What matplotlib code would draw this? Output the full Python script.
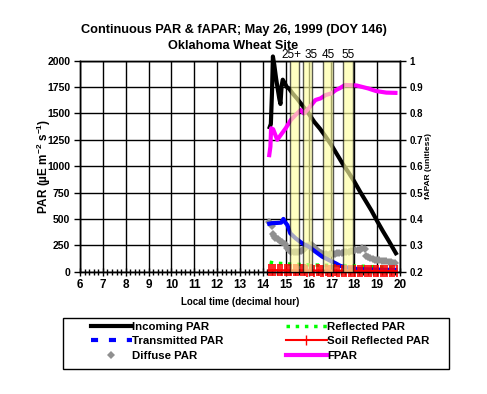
import matplotlib
matplotlib.use("Agg")
import matplotlib.pyplot as plt
from matplotlib.lines import Line2D
from matplotlib.patches import Rectangle
import numpy as np

plt.rcParams['font.family'] = ['Liberation Sans', 'DejaVu Sans']
plt.rcParams['mathtext.fontset'] = 'custom'
plt.rcParams['mathtext.rm'] = 'Liberation Sans:bold'
plt.rcParams['mathtext.default'] = 'rm'

# Incoming PAR (black)
inc_t = [14.30, 14.35, 14.40, 14.44, 14.50, 14.58, 14.66, 14.72, 14.77, 14.82, 14.87,
         14.95, 15.05, 15.15, 15.3, 15.5, 15.75, 16.0, 16.25, 16.5, 16.75, 17.0,
         17.25, 17.5, 17.75, 18.0, 18.25, 18.5, 18.75, 19.0, 19.25, 19.5, 19.82]
inc_v = [1370, 1400, 1700, 2040, 1960, 1830, 1720, 1640, 1590, 1760, 1820,
         1790, 1750, 1735, 1690, 1640, 1570, 1500, 1420, 1355, 1280, 1200,
         1110, 1020, 940, 855, 760, 670, 580, 480, 385, 295, 175]

# Transmitted PAR (blue)
tr_t = [14.28, 14.4, 14.6, 14.8, 14.9, 14.97, 15.07, 15.2, 15.43, 15.72, 16.01,
        16.3, 16.6, 16.89, 17.18, 17.4, 17.84, 18.2, 18.6, 19.0, 19.4, 19.8]
tr_v = [455, 460, 462, 465, 500, 470, 443, 364, 317, 269, 237,
        190, 142, 111, 80, 54, 32, 25, 22, 20, 18, 18]

# Diffuse PAR (grey markers)
df_t = [14.28, 14.33, 14.38, 14.43, 14.48, 14.55, 14.65, 14.75, 14.85, 14.95,
        15.05, 15.15, 15.25, 15.35, 15.45, 15.55, 15.65, 15.75, 15.85, 15.95,
        16.05, 16.15, 16.25, 16.35, 16.45, 16.55, 16.65, 16.75, 16.85, 16.95,
        17.05, 17.15, 17.25, 17.35, 17.45, 17.55, 17.65, 17.75, 17.85, 17.95,
        18.05, 18.15, 18.25, 18.35, 18.45, 18.5, 18.6, 18.7, 18.8, 18.9,
        19.0, 19.1, 19.2, 19.3, 19.4, 19.5, 19.6, 19.7, 19.8]
df_v = [470, 460, 430, 360, 335, 320, 310, 295, 285, 260,
        225, 205, 190, 185, 190, 190, 200, 210, 220, 240,
        255, 250, 230, 205, 185, 175, 170, 165, 160, 170,
        170, 172, 175, 175, 178, 182, 185, 188, 192, 198,
        202, 205, 210, 222, 215, 150, 140, 130, 120, 115,
        112, 108, 104, 100, 98, 95, 90, 85, 78]

# Reflected PAR (green)
rf_t = [14.3, 14.5, 14.8, 15.0, 15.5, 16.0, 16.5, 17.0, 17.5, 18.0, 18.5, 19.0, 19.5, 19.8]
rf_v = [90, 82, 78, 74, 70, 65, 62, 60, 58, 55, 50, 45, 40, 35]

# Soil reflected PAR (red)
sr_t = np.linspace(14.25, 19.85, 57)
sr_v = [12, 14, 13, 15, 14, 12, 13, 14, 15, 13, 12, 14, 13, 12, 14, 13, 12, 11, 13,
        12, 11, 12, 13, 11, 10, 12, 11, 10, 11, 12, 10, 9, 11, 10, 9, 8, 10, 9,
        8, 7, 9, 8, 7, 8, 7, 6, 8, 7, 6, 7, 6, 5, 7, 6, 5, 6, 5]

# FPAR (magenta, right axis)
fp_t = [14.28, 14.33, 14.36, 14.45, 14.63, 14.78, 15.0, 15.22, 15.43, 15.65, 15.8,
        16.01, 16.3, 16.52, 16.75, 17.0, 17.2, 17.35, 17.6, 18.1, 18.6, 18.95, 19.4, 19.8]
fp_v = [0.642, 0.674, 0.744, 0.74, 0.70, 0.718, 0.744, 0.775, 0.794, 0.813, 0.80,
        0.82, 0.851, 0.857, 0.87, 0.876, 0.889, 0.895, 0.908, 0.906, 0.895, 0.885, 0.879, 0.878]

# Yellow windows and their labels
win_start = [15.17, 15.77, 16.64, 17.52]
win_end = [15.60, 16.13, 17.08, 17.96]
win_lab_x = [15.27, 16.09, 16.86, 17.73]
win_lab = ["25+", "35", "45", "55"]

fig = plt.figure(figsize=(4.87, 3.94), dpi=100)
ax = fig.add_axes([80 / 487, 1 - 271.7 / 394, 320 / 487, 211 / 394])
ax2 = ax.twinx()

ax.set_xlim(6, 20)
ax.set_ylim(0, 2000)
ax2.set_ylim(0.2, 1.0)

ax.set_xticks(range(6, 21))
ax.set_xticks(np.arange(6, 20.01, 0.2), minor=True)
ax.set_yticks(range(0, 2001, 250))
ax.grid(True, which='major', color='black', linewidth=1)
ax.set_axisbelow(True)

ax.tick_params(axis='x', which='major', direction='inout', length=6, width=1,
               labelsize=8.5, pad=2)
ax.tick_params(axis='x', which='minor', direction='inout', length=4, width=1)
ax.tick_params(axis='y', direction='out', length=4, width=1, labelsize=7.5, pad=3)
for lab in ax.get_xticklabels() + ax.get_yticklabels():
    lab.set_fontweight('bold')

ax2.set_yticks(np.arange(0.2, 1.01, 0.1))
ax2.set_yticklabels(["0.2", "0.3", "0.4", "0.5", "0.6", "0.7", "0.8", "0.9", "1"],
                    fontweight='bold')
ax2.tick_params(axis='y', direction='out', length=4, width=1, labelsize=7, pad=3)

for sp in ax.spines.values():
    sp.set_linewidth(1)
for sp in ax2.spines.values():
    sp.set_linewidth(1)

ax.plot(df_t, df_v, linestyle='none', marker='D', markersize=4.5, color='#909090',
        markeredgewidth=0, zorder=3)
ax.plot(rf_t, rf_v, color='#00ff00', linestyle=':', linewidth=2.5, zorder=4)
ax.plot(tr_t, tr_v, color='#0000ff', linewidth=3, zorder=4)
ax.plot(sr_t, sr_v, color='#ff0000', linewidth=1.5, marker='|', markersize=9,
        markeredgewidth=1.2, zorder=5, clip_on=False)
ax.plot(inc_t, inc_v, color='black', linewidth=3, zorder=6, clip_on=False)
ax2.plot(fp_t, fp_v, color='#ff00ff', linewidth=3, zorder=2)

for s, e in zip(win_start, win_end):
    ax2.axvspan(s, e, facecolor='#ffffa0', alpha=0.65, edgecolor='black',
                linewidth=1, zorder=5)
for x, t in zip(win_lab_x, win_lab):
    ax.text(x, 1.0, t, transform=ax.get_xaxis_transform(), ha='center',
            va='bottom', fontsize=8.5)

ax.set_xlabel("Local time (decimal hour)", fontsize=7, fontweight='bold')
ax.xaxis.set_label_coords(0.5, -(301.7 - 271.7) / 211)
ax.xaxis.label.set_va('center')
ax.set_ylabel(r"PAR (µE m$^{-2}$ s$^{-1}$)", fontsize=8.5, fontweight='bold')
ax.yaxis.set_label_coords(-(80 - 44) / 320, 0.5)
ax.yaxis.label.set_va('center')
ax2.set_ylabel("fAPAR (unitless)", fontsize=6, fontweight='bold')
ax2.yaxis.set_label_coords((428.7 - 80) / 320, 0.5)
ax2.yaxis.label.set_va('center')

fig.text(233.5 / 487, 1 - 30 / 394, "Continuous PAR & fAPAR; May 26, 1999 (DOY 146)",
         ha='center', va='center', fontsize=9.2, fontweight='bold')
fig.text(233.5 / 487, 1 - 46 / 394, "Oklahoma Wheat Site",
         ha='center', va='center', fontsize=9.2, fontweight='bold')

# legend: frame drawn separately, entries spread between x=88 and x=430
fig.patches.append(Rectangle((63 / 487, 1 - 369 / 394), 386 / 487, 51 / 394,
                             transform=fig.transFigure, facecolor='white',
                             edgecolor='black', linewidth=1, zorder=1))
handles = [
    Line2D([], [], color='black', linewidth=3),
    Line2D([], [], color='#0000ff', linewidth=3, linestyle=(0, (1.7, 2.6))),
    Line2D([], [], color='#909090', linestyle='none', marker='D', markersize=4,
           markeredgewidth=0),
    Line2D([], [], color='#00ff00', linewidth=2.5, linestyle=':'),
    Line2D([], [], color='#ff0000', linewidth=1.5, marker='|', markersize=7),
    Line2D([], [], color='#ff00ff', linewidth=3),
]
labels = ["Incoming PAR", "Transmitted PAR", "Diffuse PAR",
          "Reflected PAR", "Soil Reflected PAR", "FPAR"]
leg = fig.legend(handles, labels, ncol=2, loc='upper left',
                 bbox_to_anchor=(88 / 487, 1 - 370 / 394, 344 / 487, 51 / 394),
                 mode='expand', borderaxespad=0, frameon=False,
                 handlelength=3.6, handletextpad=0.0,
                 labelspacing=0.4, numpoints=1, borderpad=0.25,
                 prop={'weight': 'bold', 'size': 8.2})
leg.set_zorder(2)

fig.savefig("out.png", dpi=100)
